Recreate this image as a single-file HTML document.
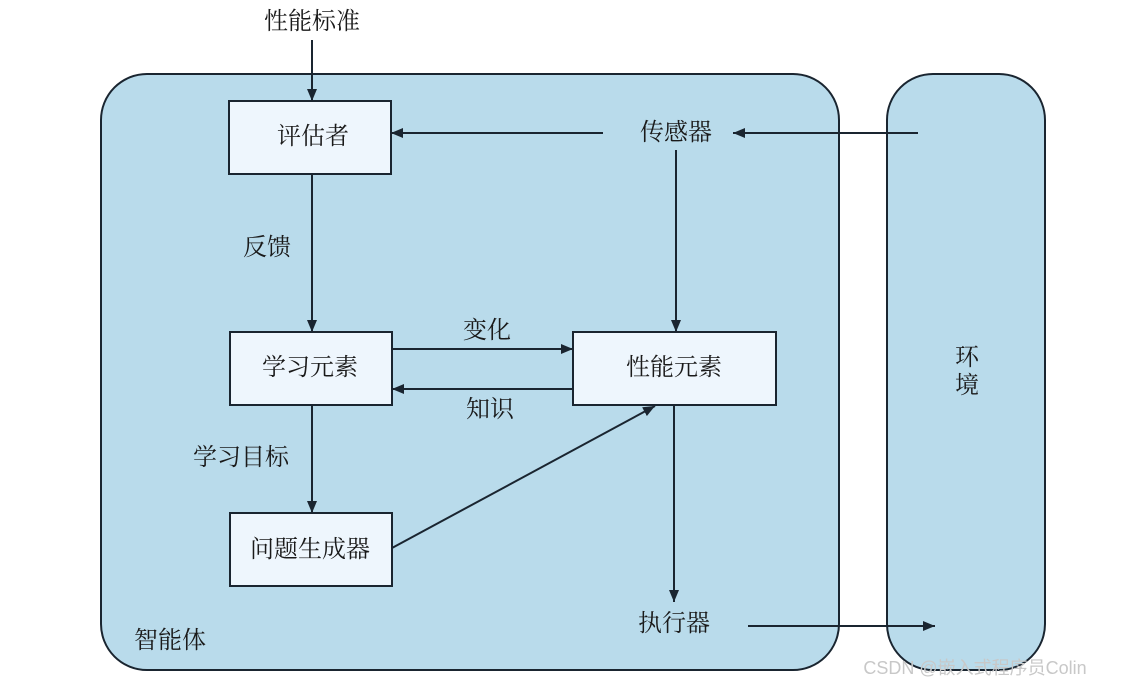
<!DOCTYPE html>
<html><head><meta charset="utf-8"><style>
body{margin:0;background:#fff}
text{font-family:"Liberation Serif","Noto Serif CJK SC","Noto Sans CJK SC",serif;font-size:24px;fill:#1a1a1a}
</style></head><body>
<svg width="1123" height="688" viewBox="0 0 1123 688" xmlns="http://www.w3.org/2000/svg">
<defs><marker id="a" markerWidth="12" markerHeight="10" refX="12" refY="5" orient="auto" markerUnits="userSpaceOnUse"><path d="M0,0 L12,5 L0,10 Z" fill="#1a2530"/></marker></defs>
<rect x="101" y="74" width="738" height="596" rx="46" fill="#b9dbeb" stroke="#1a2530" stroke-width="2"/>
<rect x="887" y="74" width="158" height="596" rx="46" fill="#b9dbeb" stroke="#1a2530" stroke-width="2"/>
<g fill="#eef6fd" stroke="#1a2530" stroke-width="2">
<rect x="229" y="101" width="162" height="73"/>
<rect x="230" y="332" width="162" height="73"/>
<rect x="573" y="332" width="203" height="73"/>
<rect x="230" y="513" width="162" height="73"/>
</g>
<g stroke="#1a2530" stroke-width="2" fill="none" marker-end="url(#a)">
<line x1="312" y1="40" x2="312" y2="101"/>
<line x1="918" y1="133" x2="733" y2="133"/>
<line x1="603" y1="133" x2="391" y2="133"/>
<line x1="676" y1="150" x2="676" y2="332"/>
<line x1="312" y1="174" x2="312" y2="332"/>
<line x1="392" y1="349" x2="573" y2="349"/>
<line x1="573" y1="389" x2="392" y2="389"/>
<line x1="312" y1="405" x2="312" y2="513"/>
<line x1="392" y1="548" x2="655" y2="406"/>
<line x1="674" y1="405" x2="674" y2="602"/>
<line x1="748" y1="626" x2="935" y2="626"/>
</g>
<g text-anchor="middle" dominant-baseline="central">
<text x="312" y="22">性能标准</text>
<text x="313" y="137">评估者</text>
<text x="676" y="133">传感器</text>
<text x="267" y="248">反馈</text>
<text x="487" y="331">变化</text>
<text x="490" y="410">知识</text>
<text x="310" y="368">学习元素</text>
<text x="674" y="368">性能元素</text>
<text x="241" y="458">学习目标</text>
<text x="310" y="550">问题生成器</text>
<text x="674" y="624">执行器</text>
<text x="170" y="641">智能体</text>
<text x="967" y="358">环</text>
<text x="967" y="386">境</text>
<text x="975" y="668" style="font-family:'Liberation Sans','Noto Sans CJK SC',sans-serif;font-size:18px;fill:#c8c8c8">CSDN @嵌入式程序员Colin</text>
</g>
</svg>
</body></html>
